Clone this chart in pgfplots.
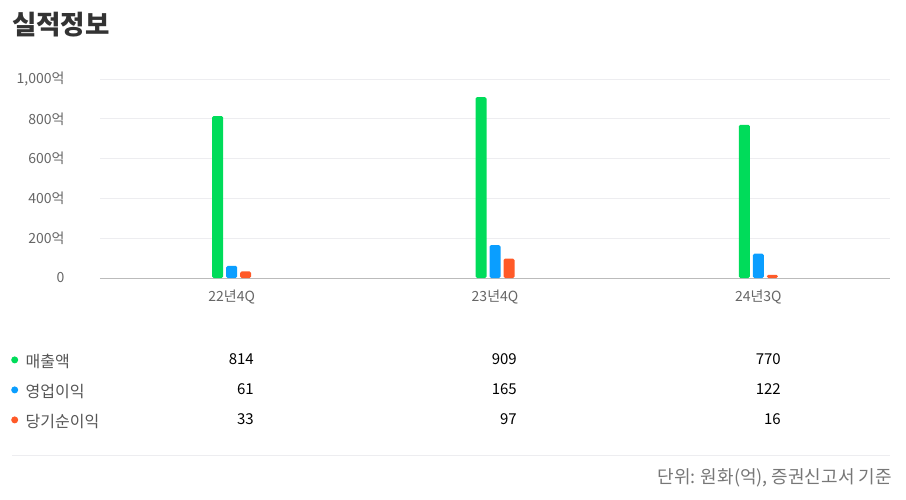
\documentclass[border=0pt]{standalone}
\usepackage{fontspec}
\setmainfont{Noto Sans CJK KR}
\usepackage{pgfplots}
\pgfplotsset{compat=1.18}

\definecolor{sales}{HTML}{00DC5A}
\definecolor{opinc}{HTML}{0A9EFF}
\definecolor{netinc}{HTML}{FF5A28}
\definecolor{titlecol}{HTML}{333333}
\definecolor{tickcol}{HTML}{666666}
\definecolor{labelcol}{HTML}{555555}
\definecolor{footcol}{HTML}{777777}
\definecolor{gridcol}{HTML}{EDEDF0}
\definecolor{basecol}{HTML}{BBBBBB}

\begin{document}
\begin{tikzpicture}[x=1pt,y=1pt]
\path[use as bounding box] (0,0) rectangle (906,499);

% title
\node[anchor=west, inner sep=0pt, text=titlecol,
      font=\fontsize{26.5}{30}\selectfont\bfseries] at (12,474) {실적정보};

\begin{axis}[
	at={(100pt,221pt)}, anchor=south west,
	scale only axis,
	width=790pt, height=199pt,
	xmin=0, xmax=3,
	ymin=0, ymax=1000,
	ybar=3pt, bar width=11pt,
	axis lines*=left,
	y axis line style={draw=none},
	x axis line style={draw=basecol, line width=0.8pt},
	major tick length=0pt,
	ymajorgrids,
	grid style={draw=gridcol, line width=0.8pt},
	xtick={0.5,1.5,2.5},
	xticklabels={22년4Q,23년4Q,24년3Q},
	ytick={0,200,400,600,800,1000},
	yticklabels={0,200억,400억,600억,800억,{1,000억}},
	tick label style={font=\fontsize{14}{16}\selectfont, text=tickcol},
	yticklabel style={anchor=east, xshift=-32pt},
	xticklabel style={yshift=-8pt},
	clip=false,
	every axis plot/.append style={rounded corners=1.5pt},
	legend image code/.code={
		\fill[#1, rounded corners=0pt] (0pt,0.33em) circle (3.5pt);
		\path (-3.5pt,0pt) (11pt,0pt);},
	legend cell align=left,
	legend style={at={(0,0)}, anchor=north west, xshift=-89pt, yshift=-77pt,
		draw=none, fill=none, inner sep=0pt, row sep=14pt,
		font=\fontsize{16}{18}\selectfont, text=labelcol,
		nodes={inner sep=0pt, text height=12pt, text depth=4pt}},
]
\addplot[fill=sales, draw=none] coordinates {(0.5,814) (1.5,909) (2.5,770)};
\addplot[fill=opinc, draw=none] coordinates {(0.5,61) (1.5,165) (2.5,122)};
\addplot[fill=netinc, draw=none] coordinates {(0.5,33) (1.5,97) (2.5,16)};
\legend{매출액,영업이익,당기순이익}
\end{axis}

% value table
\begin{scope}[every node/.style={anchor=east, inner sep=0pt, font=\fontsize{15}{17}\selectfont, text=black}]
\node at (254,140) {814}; \node at (517,140) {909}; \node at (781,140) {770};
\node at (254,110) {61};  \node at (517,110) {165}; \node at (781,110) {122};
\node at (254,80)  {33};  \node at (517,80)  {97};  \node at (781,80)  {16};
\end{scope}

\draw[gridcol, line width=0.8pt] (12,44) -- (890,44);
\node[anchor=east, inner sep=0pt, text=footcol, font=\fontsize{18}{20}\selectfont]
	at (892,21) {단위: 원화(억), 증권신고서 기준};
\end{tikzpicture}
\end{document}
